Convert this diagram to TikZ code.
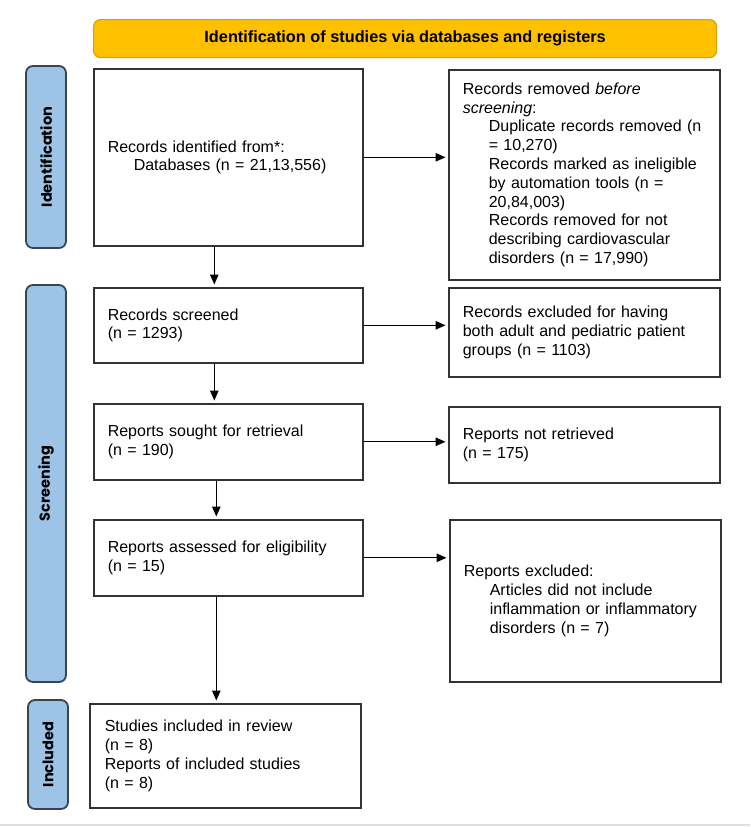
\documentclass[tikz,border=0pt]{standalone}
\usepackage{fontspec}
\setmainfont{Liberation Sans}
\newfontfamily\phasefont{Poppins}
\usepackage{xcolor}
\usepackage{tikz}
\usetikzlibrary{arrows.meta,positioning}
\definecolor{prismagold}{HTML}{FFC000}
\definecolor{prismagoldline}{HTML}{D9A300}
\definecolor{phaseblue}{HTML}{9DC3E6}
\definecolor{phaseline}{HTML}{3A4350}
\newcommand{\pind}{\hspace*{26pt}}

\begin{document}
\begin{tikzpicture}[
  x=1pt,y=-1pt,
  head/.style={draw=prismagoldline,line width=1.2pt,fill=prismagold,rounded corners=7pt,anchor=north west,minimum width=623pt,minimum height=38pt,font=\fontsize{16.3pt}{19pt}\selectfont\bfseries},
  phase/.style={draw=phaseline,line width=1.8pt,fill=phaseblue,rounded corners=7pt,rotate=90,minimum height=40pt,font=\phasefont\fontsize{14.5pt}{17pt}\selectfont\bfseries},
  box/.style={draw=black!80,line width=1.6pt,fill=white,anchor=north west,inner xsep=14pt,inner ysep=0pt,align=left,font=\fontsize{16pt}{18.8pt}\selectfont},
  lbox/.style={box,text width=241pt},
  rbox/.style={box,text width=243pt},
  arr/.style={-{Triangle[length=10pt,width=8.5pt]},line width=1.2pt,shorten >=2.5pt}
]
\useasboundingbox[fill=white] (0,0) rectangle (750,827);

\node[head] (head) at (93,19) {Identification of studies via databases and registers};

\node[phase,minimum width=182pt] (idphase) at (46,157) {Identification};
\node[phase,minimum width=397pt] (scphase) at (46,483.5) {Screening};
\node[phase,minimum width=109pt] (inphase) at (48,754.5) {Included};

\node[lbox,minimum height=177pt] (ident) at (93,68) {Records identified from*:\\\pind Databases (n = 21,13,556)};
\node[rbox,minimum height=210pt] (removed) at (448,69) {Records removed \textit{before}\\\textit{screening}:\\\pind Duplicate records removed (n\\\pind = 10,270)\\\pind Records marked as ineligible\\\pind by automation tools (n =\\\pind 20,84,003)\\\pind Records removed for not\\\pind describing cardiovascular\\\pind disorders (n = 17,990)};

\node[lbox,minimum height=75pt] (screened) at (93,287) {Records screened\\(n = 1293)};
\node[rbox,minimum height=89pt] (excluded) at (448,287) {Records excluded for having\\both adult and pediatric patient\\groups (n = 1103)};

\node[lbox,minimum height=76pt] (sought) at (93,403) {Reports sought for retrieval\\(n = 190)};
\node[rbox,minimum height=76pt] (notretr) at (448,406) {Reports not retrieved\\(n = 175)};

\node[lbox,minimum height=76pt] (assessed) at (93,519) {Reports assessed for eligibility\\(n = 15)};
\node[rbox,minimum height=162pt] (reportsex) at (449,519) {Reports excluded:\\\pind Articles did not include\\\pind inflammation or inflammatory\\\pind disorders (n = 7)};

\node[lbox,minimum height=104pt,inner xsep=15pt,text width=241pt] (incl) at (89,703) {Studies included in review\\(n = 8)\\Reports of included studies\\(n = 8)};

\draw[arr] (ident.east) -- (ident.east -| removed.west);
\draw[arr] (screened.east) -- (screened.east -| excluded.west);
\draw[arr] (sought.east) -- (sought.east -| notretr.west);
\draw[arr] (assessed.east) -- (assessed.east -| reportsex.west);

\draw[arr] ([xshift=-14pt]ident.south) -- ([xshift=-14pt]ident.south |- screened.north);
\draw[arr] ([xshift=-14pt]screened.south) -- ([xshift=-14pt]screened.south |- sought.north);
\draw[arr] ([xshift=-12pt]sought.south) -- ([xshift=-12pt]sought.south |- assessed.north);
\draw[arr] ([xshift=-12pt]assessed.south) -- ([xshift=-12pt]assessed.south |- incl.north);

\draw[black!12,line width=1.5pt] (0,825) -- (750,825);
\end{tikzpicture}
\end{document}
